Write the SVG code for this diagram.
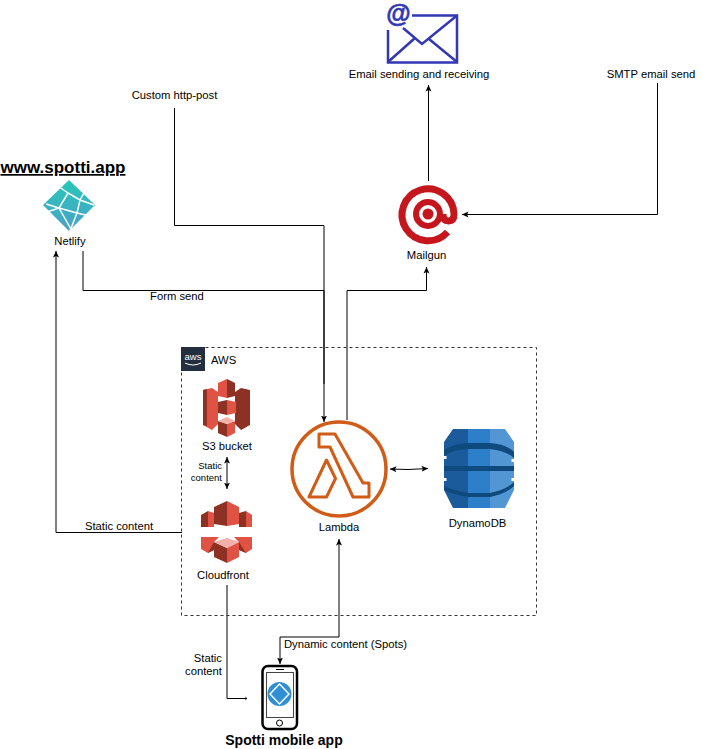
<svg xmlns="http://www.w3.org/2000/svg" width="703" height="749" viewBox="0 0 703 749">
<style>
text{font-family:"Liberation Sans",Arial,sans-serif;font-size:11.25px;fill:#000}
.m{text-anchor:middle}
.e{text-anchor:end}
.c{fill:none;stroke:#000;stroke-width:1}
.b{font-weight:bold;font-size:14px}
.r1{fill:#e05243}.r2{fill:#8c3123}.r3{fill:#f2b0a9}
.d1{fill:#1b5b9c}.d2{fill:#2e7fca}.d3{fill:#5297d3}.d4{fill:#0f4a7f}
</style>
<defs>
<marker id="a" markerWidth="8" markerHeight="8" refX="6.500" refY="4" orient="auto-start-reverse" markerUnits="userSpaceOnUse"><path d="M0 1L6.500 4L0 7L1.500 4Z" fill="#000"/></marker>
<marker id="t" markerWidth="4" markerHeight="6" refX="3" refY="3" orient="auto" markerUnits="userSpaceOnUse"><path d="M1.500 1L3 3L1.500 5Z" fill="#000"/></marker>
<linearGradient id="n" x1="0.500" y1="0" x2="0.500" y2="1"><stop offset="0" stop-color="#27c7b7"/><stop offset="1" stop-color="#4aa2c8"/></linearGradient>
</defs>
<rect width="703" height="749" fill="#fff"/>
<g id="connectors">
<path class="c" marker-end="url(#a)" d="M174.500 108V225.500H324V422"/>
<path class="c" d="M83 251V290.500H324V384"/>
<path class="c" marker-end="url(#a)" d="M347 420V290.500H426.500V267"/>
<path class="c" marker-end="url(#a)" d="M428.500 181V85"/>
<path class="c" marker-end="url(#a)" d="M657.500 83V214.500H462"/>
<path class="c" marker-end="url(#a)" d="M182 532.500H56V251"/>
<path class="c" marker-start="url(#a)" marker-end="url(#a)" d="M227 457V489"/>
<path class="c" marker-start="url(#a)" marker-end="url(#a)" d="M390 469L408 469.500L428 468.500"/>
<path class="c" marker-end="url(#t)" d="M227 585V698.500H247"/>
<path class="c" marker-start="url(#a)" marker-end="url(#a)" d="M339 539V637H280V664"/>
</g>
<g id="aws-group">
<rect x="181.500" y="347.500" width="355" height="268" fill="none" stroke="#333" stroke-dasharray="3 3"/>
<rect x="181" y="347" width="24" height="24" fill="#232f3e"/>
<text x="193" y="360" class="m" style="font-size:9.500px;fill:#fff">aws</text>
<path d="M185 363Q193 367 201 363" fill="none" stroke="#fff" stroke-width="1"/>
<text x="211" y="364">AWS</text>
</g>
<g id="email">
<path d="M412 15.500H457V62.500H388V30" fill="none" stroke="#3137b5" stroke-width="2.500"/>
<path d="M457 15.500L422 44L403 28M388 62L415 38M457 62L429 39" fill="none" stroke="#3137b5" stroke-width="2.500"/>
<text x="398.500" y="22" class="m" style="font-size:25px;font-weight:bold;fill:#3137b5;stroke:#3137b5;stroke-width:.6px">@</text>
<text x="419" y="78" class="m">Email sending and receiving</text>
</g>
<g id="smtp"><text x="651" y="78" class="m">SMTP email send</text></g>
<g id="http"><text x="174.500" y="99" class="m">Custom http-post</text></g>
<g id="netlify">
<text x="63" y="173" class="m" style="font-size:17px;font-weight:bold;text-decoration:underline">www.spotti.app</text>
<path d="M69 181L94 205L69 230L44 205Z" fill="url(#n)" stroke="url(#n)" stroke-width="1.500" stroke-linejoin="round"/>
<path d="M68 193L59 208L46 204M68 193L80 200L94 205M80 200L77 213L59 208M77 213L90 216M77 213L70 231M59 208L72 231M59 208L47 212M68 193L58 186M80 200L85 191" fill="none" stroke="#fff" stroke-width="1.500"/>
<text x="70" y="245" class="m">Netlify</text>
</g>
<g id="mailgun">
<circle cx="428" cy="214" r="5.500" fill="#c4161c"/>
<circle cx="428" cy="214" r="12" fill="none" stroke="#c4161c" stroke-width="6"/>
<path d="M447.500 232A26 26 0 1 1 454 214Q454 221 448.500 221Q443 221 443 214" fill="none" stroke="#c4161c" stroke-width="7"/>
<text x="426.500" y="259" class="m">Mailgun</text>
</g>
<g id="s3">
<path class="r1" d="M203 390L212 388L218 392V424L212 430L203 425Z"/>
<path class="r2" d="M203 390L207 389V426L203 425Z"/>
<path class="r2" d="M250 390L241 388L235 392V424L241 430L250 425Z"/>
<path class="r1" d="M218 383L227 379V398L218 396Z"/>
<path class="r2" d="M235 383L227 379V398L235 396Z"/>
<path class="r2" d="M218 402L227 400V415L218 413Z"/>
<path class="r1" d="M227 400L236 402V413L227 415Z"/>
<path class="r2" d="M218 421L227 424V437L218 433Z"/>
<path class="r1" d="M235 421L227 424V437L235 433Z"/>
<path class="r3" d="M218 421L227 417L235 421L227 424Z"/>
<text x="227" y="450" class="m">S3 bucket</text>
</g>
<g id="cloudfront">
<path class="r2" d="M214 507L227 501V526L214 524Z"/>
<path class="r1" d="M239 507L227 501V526L239 524Z"/>
<path class="r2" d="M201 515L208 511V527H201Z"/>
<path class="r1" d="M214 513L208 511V527H214Z"/>
<path class="r2" d="M239 513L246 511V527H239Z"/>
<path class="r1" d="M252 515L246 511V527H252Z"/>
<path class="r1" d="M201 537H219L214 542V550L208 553L201 549Z"/>
<path class="r2" d="M214 542L208 553L214 550Z"/>
<path class="r1" d="M252 537H234L239 542V550L246 553L252 549Z"/>
<path class="r2" d="M239 542L239 550L246 553Z"/>
<path class="r2" d="M214 542L227 548V563L214 557Z"/>
<path class="r1" d="M239 542L227 548V563L239 557Z"/>
<path class="r3" d="M214 542L227 538L239 542L227 548Z"/>
<text x="223" y="579" class="m">Cloudfront</text>
<text x="222" y="469" class="e" style="font-size:9.500px">Static</text>
<text x="222" y="481" class="e" style="font-size:9.500px">content</text>
</g>
<g id="lambda">
<circle cx="339" cy="469" r="47" fill="#fff" stroke="#d05c17" stroke-width="3.500"/>
<path d="M319 434H335L363 483H369V497H353L330 447H319Z" fill="none" stroke="#d05c17" stroke-width="3" stroke-linejoin="round"/>
<path d="M309 497L326.500 460L335.500 478.500L326.500 497Z" fill="none" stroke="#d05c17" stroke-width="3" stroke-linejoin="round"/>
<text x="339" y="531" class="m">Lambda</text>
</g>
<g id="dynamodb">
<path class="d1" d="M444 442L453 429H468V508H453L444 490Z"/>
<path class="d2" d="M468 429H490V508H468Z"/>
<path class="d3" d="M490 429H505L514 442V490L505 508H490Z"/>
<path class="d4" d="M444 450Q452 444 468 443H490Q506 444 514 452V458Q506 451 490 449H468Q452 450 444 456Z"/>
<path class="d4" d="M444 466H514V471H444Z"/>
<path class="d4" d="M444 486Q452 490 468 493H490Q506 490 514 482V486Q506 494 490 497H468Q452 494 444 490Z"/>
<rect x="444" y="456" width="2.500" height="3" fill="#fff"/><rect x="511.500" y="459" width="2.500" height="3" fill="#fff"/>
<rect x="444" y="478" width="2.500" height="3" fill="#fff"/><rect x="511.500" y="478" width="2.500" height="3" fill="#fff"/>
<text x="477.500" y="527" class="m">DynamoDB</text>
</g>
<g id="labels">
<text x="177" y="300" class="m">Form send</text>
<text x="119" y="530" class="m">Static content</text>
<text x="345.500" y="648" class="m">Dynamic content (Spots)</text>
<text x="222" y="662" class="e">Static</text>
<text x="222" y="675" class="e">content</text>
</g>
<g id="mobile">
<rect x="262.500" y="666" width="34.500" height="63" rx="5.500" fill="#fff" stroke="#000" stroke-width="2.500"/>
<rect x="266.500" y="672.500" width="27" height="45" fill="none" stroke="#444" stroke-width="1"/>
<path d="M276 669.500H284" stroke="#000"/>
<circle cx="279.500" cy="723" r="3" fill="none" stroke="#000"/>
<circle cx="279.500" cy="694" r="12" fill="#2f8fd3"/>
<path d="M270 694L279.500 684L289 694L279.500 704Z" fill="#2f8fd3" stroke="#fff" stroke-width="1.500"/>
<text x="284" y="745" class="m b">Spotti mobile app</text>
</g>
</svg>
